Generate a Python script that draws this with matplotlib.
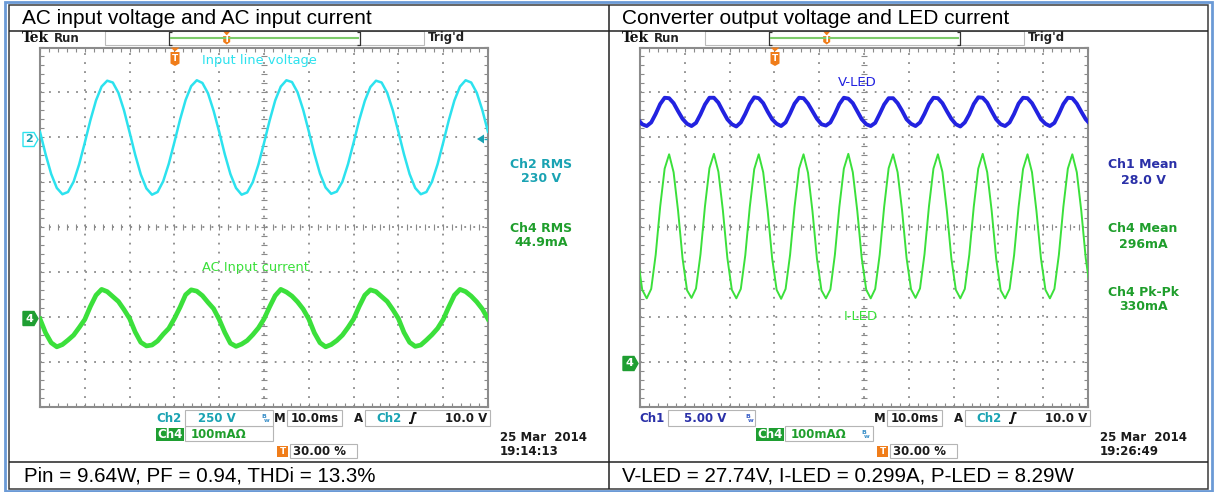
import numpy as np
import matplotlib.pyplot as plt
from matplotlib.patches import Rectangle, Polygon
from matplotlib.ticker import MultipleLocator

# ---- traces read off the two scope screens (values in divisions, 0 = screen centre) ----
# left screen: one sample every 1.25 ms, 0 .. 100 ms
v_line = [2.12, 1.62, 1.18, 0.87, 0.73, 0.78, 1.01, 1.40, 1.88, 2.38, 2.82, 3.13, 3.26, 3.22, 2.99, 2.60,
          2.11, 1.61, 1.17, 0.86, 0.72, 0.78, 1.02, 1.41, 1.89, 2.39, 2.83, 3.14, 3.27, 3.21, 2.98, 2.59,
          2.12, 1.62, 1.18, 0.87, 0.72, 0.77, 1.00, 1.39, 1.87, 2.37, 2.82, 3.13, 3.27, 3.23, 3.00, 2.61,
          2.13, 1.63, 1.19, 0.88, 0.74, 0.79, 1.01, 1.40, 1.88, 2.38, 2.81, 3.12, 3.26, 3.22, 2.99, 2.60,
          2.12, 1.62, 1.18, 0.87, 0.73, 0.78, 1.01, 1.40, 1.88, 2.38, 2.82, 3.13, 3.27, 3.22, 2.99, 2.60,
          2.12]
i_line = [-2.05, -2.36, -2.58, -2.67, -2.62, -2.52, -2.41, -2.24, -2.06, -1.77, -1.52, -1.39, -1.44, -1.55, -1.66, -1.84,
          -2.04, -2.34, -2.57, -2.65, -2.63, -2.54, -2.39, -2.26, -2.04, -1.79, -1.51, -1.40, -1.43, -1.53, -1.68, -1.82,
          -2.06, -2.35, -2.59, -2.66, -2.61, -2.53, -2.40, -2.25, -2.05, -1.78, -1.53, -1.39, -1.45, -1.54, -1.67, -1.83,
          -2.05, -2.36, -2.58, -2.67, -2.62, -2.53, -2.41, -2.24, -2.05, -1.77, -1.52, -1.40, -1.44, -1.55, -1.66, -1.84,
          -2.04, -2.35, -2.57, -2.66, -2.63, -2.52, -2.40, -2.26, -2.06, -1.78, -1.52, -1.39, -1.44, -1.54, -1.67, -1.83,
          -2.05]
# right screen: one sample every 1 ms, -0.5 .. 100.5 ms
v_led = [2.40, 2.29, 2.25, 2.33, 2.52, 2.74, 2.88, 2.87, 2.76, 2.58,
         2.41, 2.30, 2.25, 2.32, 2.51, 2.73, 2.88, 2.88, 2.77, 2.58,
         2.40, 2.29, 2.24, 2.33, 2.52, 2.74, 2.89, 2.87, 2.76, 2.57,
         2.40, 2.30, 2.25, 2.33, 2.53, 2.75, 2.88, 2.87, 2.75, 2.58,
         2.41, 2.29, 2.26, 2.33, 2.52, 2.74, 2.88, 2.86, 2.76, 2.58,
         2.40, 2.29, 2.25, 2.32, 2.52, 2.73, 2.87, 2.87, 2.76, 2.59,
         2.40, 2.30, 2.25, 2.33, 2.52, 2.74, 2.88, 2.87, 2.76, 2.58,
         2.41, 2.29, 2.24, 2.33, 2.51, 2.74, 2.89, 2.88, 2.77, 2.58,
         2.40, 2.29, 2.25, 2.33, 2.52, 2.75, 2.88, 2.87, 2.76, 2.58,
         2.40, 2.30, 2.25, 2.32, 2.52, 2.74, 2.88, 2.87, 2.75, 2.57,
         2.40, 2.29]
i_led = [-0.70, -1.40, -1.59, -1.38, -0.62, 0.45, 1.30, 1.62, 1.22, 0.36,
         -0.70, -1.41, -1.58, -1.37, -0.61, 0.46, 1.31, 1.63, 1.23, 0.37,
         -0.69, -1.40, -1.59, -1.38, -0.63, 0.44, 1.29, 1.62, 1.22, 0.36,
         -0.70, -1.40, -1.60, -1.38, -0.62, 0.45, 1.30, 1.62, 1.21, 0.35,
         -0.71, -1.41, -1.59, -1.39, -0.62, 0.45, 1.30, 1.63, 1.22, 0.36,
         -0.70, -1.40, -1.59, -1.38, -0.62, 0.45, 1.31, 1.62, 1.22, 0.37,
         -0.69, -1.39, -1.58, -1.37, -0.61, 0.46, 1.30, 1.62, 1.23, 0.36,
         -0.70, -1.40, -1.59, -1.38, -0.62, 0.45, 1.30, 1.63, 1.22, 0.36,
         -0.70, -1.41, -1.59, -1.38, -0.63, 0.44, 1.29, 1.62, 1.22, 0.35,
         -0.70, -1.40, -1.59, -1.38, -0.62, 0.45, 1.30, 1.62, 1.22, 0.36,
         -0.70, -1.40]
t_ac = np.arange(len(v_line)) * 1.25
t_led = np.arange(len(v_led)) * 1.0 - 0.5

titles = ["AC input voltage and AC input current", "Converter output voltage and LED current"]
results = ["Pin = 9.64W, PF = 0.94, THDi = 13.3%", "V-LED = 27.74V, I-LED = 0.299A, P-LED = 8.29W"]
meas_left = [("Ch2 RMS", "230 V"), ("Ch4 RMS", "44.9mA")]
meas_right = [("Ch1 Mean", "28.0 V"), ("Ch4 Mean", "296mA"), ("Ch4 Pk-Pk", "330mA")]
stamps = [("25 Mar  2014", "19:14:13"), ("25 Mar  2014", "19:26:49")]

CYAN = '#2CE2EE'
TEAL = '#1AA3B3'
GREEN = '#3BE03B'
DGREEN = '#1F9E2C'
BLUE = '#2222E0'
NAVY = '#2A30A8'
ORANGE = '#F07D1A'
GRID = '#8a8a8a'
SANS = 'DejaVu Sans'
ARIAL = 'Liberation Sans'

W, H = 1214, 492
fig = plt.figure(figsize=(W / 100, H / 100), dpi=100)
fig.patch.set_facecolor('white')


def scope(x0, x1, y0, y1):
    ax = fig.add_axes([x0 / W, 1 - y1 / H, (x1 - x0) / W, (y1 - y0) / H])
    ax.set_xlim(0, 100)
    ax.set_ylim(-4, 4)
    ax.set_facecolor('none')
    ax.xaxis.set_major_locator(MultipleLocator(2))
    ax.yaxis.set_major_locator(MultipleLocator(0.2))
    ax.tick_params(direction='in', length=3, width=0.8, colors=GRID,
                   top=True, right=True, labelbottom=False, labelleft=False)
    for s in ax.spines.values():
        s.set_color('#8c8c8c')
        s.set_linewidth(1.5)
    # dotted graticule, one dot every 1/5 division
    for gx in range(10, 100, 10):
        ax.axvline(gx, color=GRID, lw=1.3, ls=(0, (1, 4.0)), zorder=1)
    for gy in range(-3, 4):
        ax.axhline(gy, color=GRID, lw=1.3, ls=(0, (1, 4.0)), zorder=1)
    cx = np.arange(2, 100, 2)
    ax.plot(cx, np.zeros_like(cx), ls='none', marker='|', ms=4.5, mew=0.8, color=GRID, zorder=1)
    cy = np.arange(-3.8, 3.9, 0.2)
    ax.plot(np.full_like(cy, 50), cy, ls='none', marker='_', ms=4.5, mew=0.8, color=GRID, zorder=1)
    return ax


axL = scope(40, 488, 47.5, 406.5)
axL.plot(t_ac, v_line, color=CYAN, lw=1.8, zorder=3)
axL.plot(t_ac, i_line, color=GREEN, lw=3.4, zorder=3)

axR = scope(640, 1088, 47.5, 406.5)
axR.plot(t_led, v_led, color=BLUE, lw=2.8, zorder=3)
axR.plot(t_led, i_led, color=GREEN, lw=1.4, zorder=3)

# overlay in pixel coordinates for the frame and the scope readouts
ov = fig.add_axes([0, 0, 1, 1], zorder=3)
ov.set_xlim(0, W)
ov.set_ylim(H, 0)
ov.axis('off')


def line(xs, ys, **kw):
    ov.plot(xs, ys, solid_capstyle='butt', **kw)


def txt(x, y, s, color='#1a1a1a', size=9, ha='left', weight='bold', family=SANS, va='center'):
    ov.text(x, y, s, color=color, fontsize=size, ha=ha, va=va, fontweight=weight, family=family)


def t_badge(x, y, w, h):
    ov.add_patch(Polygon([(x - w / 2, y), (x + w / 2, y), (x, y + 4)], fc=ORANGE, ec='none'))
    ov.add_patch(Polygon([(x - w / 2, y + 4.5), (x + w / 2, y + 4.5), (x + w / 2, y + h - 2.5),
                          (x, y + h), (x - w / 2, y + h - 2.5)], fc=ORANGE, ec='none'))
    txt(x, y + 4.5 + (h - 4.5) / 2 - 0.5, 'T', color='white', size=6.5, ha='center')


def ch_marker(x, y, label, face, edge, tc):
    ov.add_patch(Polygon([(x, y - 7), (x + 11, y - 7), (x + 15, y), (x + 11, y + 7), (x, y + 7)],
                         fc=face, ec=edge, lw=1))
    txt(x + 6, y, label, color=tc, size=8, ha='center')


def box(x0, x1, y0, y1):
    ov.add_patch(Rectangle((x0, y0), x1 - x0, y1 - y0, fc='white', ec='#b5b5b5', lw=0.8))


def bw(x, y, color):
    txt(x, y - 2, 'B', color=color, size=4.5, ha='center')
    txt(x + 2.5, y + 2, 'w', color=color, size=4.5, ha='center')


# outer frame and table lines
ov.add_patch(Rectangle((5, 1.5), 1207, 489, fill=False, ec='#6B9AD6', lw=2))
ov.add_patch(Rectangle((9, 5), 1199, 484, fill=False, ec='#3a3a3a', lw=1.1))
line([9, 1208], [31, 31], color='#222222', lw=1.1)
line([9, 1208], [462, 462], color='#222222', lw=1.1)
line([608.5, 608.5], [5, 489], color='#222222', lw=1.1)

for p, dx in enumerate([0, 600]):
    txt(22 + dx, 24, titles[p], color='black', size=15, weight='normal', family=ARIAL, va='baseline')
    txt(24 + dx - 1.5 * p, 482, results[p], color='black', size=14.8, weight='normal', family=ARIAL,
        va='baseline')

    # header strip
    txt(22 + dx, 38, 'Tek', color='#111111', size=10, family='DejaVu Serif')
    txt(53.5 + dx, 38, 'Run', color='#222222', size=8.5)
    ov.add_patch(Rectangle((104.5 + dx, 31), 319.5, 14, fill=False, ec='#bbbbbb', lw=0.8))
    txt(428 + dx, 38, "Trig'd", color='#222222', size=8.5)
    for bx, hook in [(168.5, 3), (360, -3)]:
        line([bx + dx + hook, bx + dx, bx + dx, bx + dx + hook], [32, 32, 44.5, 44.5], color='#333333', lw=0.9)
    line([170 + dx, 358.5 + dx], [38, 38], color='#7DCB6B', lw=1.5)
    t_badge(226.7 + dx, 31.5, 7, 13)
    t_badge(175 + dx, 47.5, 9, 18.5)

    # bottom readout rows
    txt(280 + dx, 418, 'M', size=8.5, ha='center')
    box(287 + dx, 342 + dx, 410, 426)
    txt(314.5 + dx, 418, '10.0ms', size=8.5, ha='center')
    txt(358 + dx, 418, 'A', size=8.5, ha='center')
    box(365 + dx, 489.5 + dx, 410, 426)
    txt(376 + dx, 418, 'Ch2', color=TEAL, size=8.5)
    line([409 + dx, 411.5 + dx, 414 + dx, 416.5 + dx], [423, 423, 413, 413], color='#111111', lw=1.5)
    txt(487 + dx, 418, '10.0 V', size=8.5, ha='right')
    ov.add_patch(Rectangle((156 + dx, 428), 28, 13, fc='#1F9E32', ec='none'))
    txt(170 + dx, 434.5, 'Ch4', color='white', size=8.5, ha='center')
    box(185 + dx, 273 + dx, 426, 441)
    txt(219 + dx, 434, '100mA\u03a9', color=DGREEN, size=8.5, ha='center')
    ov.add_patch(Rectangle((277 + dx, 446), 11, 10.7, fc=ORANGE, ec='none'))
    txt(282.5 + dx, 451.3, 'T', color='white', size=6.5, ha='center')
    box(290 + dx, 357 + dx, 444.3, 457.7)
    txt(293 + dx, 451.3, '30.00 %', size=8.5)
    txt(500 + dx, 437.7, stamps[p][0], size=8.5)
    txt(500 + dx, 451.7, stamps[p][1], size=8.5)

# left screen specific labels
txt(259.5, 60.5, 'Input line voltage', color=CYAN, size=9.4, ha='center', weight='normal')
txt(256, 268, 'AC Input current', color=GREEN, size=9.4, ha='center', weight='normal')
ch_marker(23, 139.5, '2', 'white', CYAN, TEAL)
ch_marker(23, 318.5, '4', '#1F9E32', '#1F9E32', 'white')
ov.add_patch(Polygon([(477, 139), (484, 134.5), (484, 143.5)], fc=TEAL, ec='none'))
line([484, 487], [139, 139], color=TEAL, lw=1)
for k, (a, b) in enumerate(meas_left):
    col = TEAL if k == 0 else DGREEN
    txt(541.5, 164 + 64 * k, a, color=col, size=9, ha='center')
    txt(541.5, 179 + 64 * k, b, color=col, size=9, ha='center')
txt(156, 418, 'Ch2', color=TEAL, size=8.5)
box(185, 273, 410, 426)
txt(217, 418, '250 V', color=TEAL, size=8.5, ha='center')
bw(264, 418, '#3a8fc8')

# right screen specific labels
txt(857, 82.7, 'V-LED', color=BLUE, size=9.5, ha='center', weight='normal')
txt(861, 317, 'I-LED', color=GREEN, size=9.5, ha='center', weight='normal')
ch_marker(623, 363.5, '4', '#1F9E32', '#1F9E32', 'white')
for k, (a, b) in enumerate(meas_right):
    col = NAVY if k == 0 else DGREEN
    txt(1143, [164, 228, 293][k], a, color=col, size=9, ha='center')
    txt(1143, [180, 244, 307][k], b, color=col, size=9, ha='center')
txt(639, 418, 'Ch1', color=NAVY, size=8.5)
box(668, 755, 410, 426)
txt(705, 418, '5.00 V', color=NAVY, size=8.5, ha='center')
bw(748, 418, '#3a5fc8')
bw(864, 434, '#3a8fc8')

fig.savefig('out.png', dpi=100, facecolor='white')
